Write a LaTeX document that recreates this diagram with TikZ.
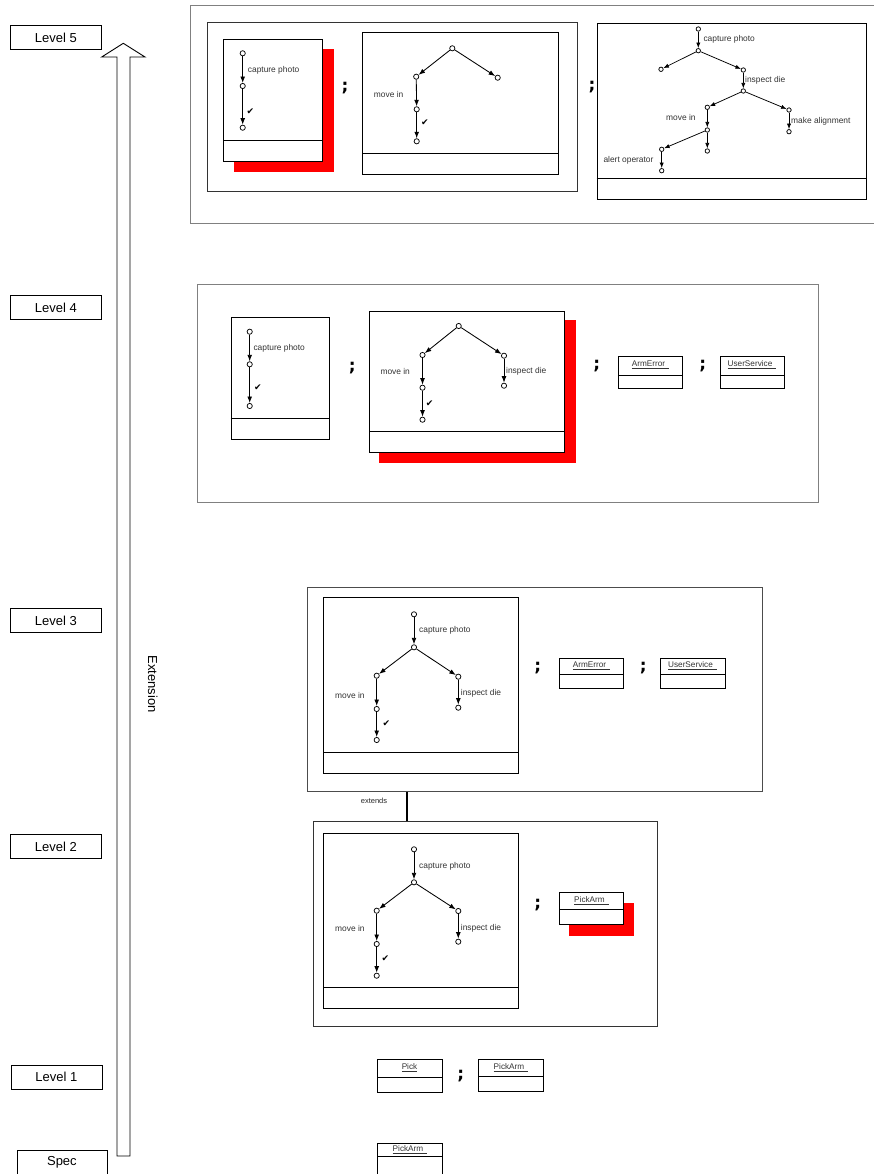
\documentclass[tikz,border=0pt]{standalone}
\usepackage{fontspec}
\setmainfont{Liberation Sans}
\newfontfamily\symfont{DejaVu Sans}
\usetikzlibrary{arrows.meta}

% rectangular node given by its corners: [style]{name}{x1}{y1}{x2}{y2}
\newcommand\panel[6][box]{%
  \node[#1, minimum width=#5-#3, minimum height=#6-#4] (#2) at (#3,#4) {};}
% horizontal compartment line across a box at height #2
\newcommand\compart[3][0.9pt]{%
  \draw[line width=#1] (#2.west |- 0,#3) -- (#2.east |- 0,#3);}

\begin{document}
\begin{tikzpicture}[x=1pt,y=-1pt,
  box/.style={draw=black, fill=white, line width=0.9pt, inner sep=0pt, anchor=north west},
  outer/.style={draw=black!50, line width=1pt, inner sep=0pt, anchor=north west},
  shadow/.style={fill=red, draw=none, inner sep=0pt, anchor=north west},
  level/.style={draw=black, line width=0.8pt, inner sep=0pt, anchor=north west,
    font=\fontsize{13}{15}\selectfont},
  st/.style={circle, draw=black, fill=white, line width=0.75pt, inner sep=0pt, minimum size=5.2pt},
  sts/.style={st, minimum size=4.4pt},
  tr/.style={draw=black, line width=0.85pt, -{Latex[length=6.5pt,width=4.8pt]}},
  trs/.style={draw=black, line width=0.75pt, -{Latex[length=5.5pt,width=4.2pt]}},
  lbl/.style={anchor=west, inner sep=0pt, font=\fontsize{8.4}{9}\selectfont, text=black!80},
  chk/.style={inner sep=0pt, font=\symfont\fontsize{9}{10}\selectfont},
  semi/.style={inner sep=0pt, font=\symfont\bfseries\fontsize{17}{20}\selectfont},
  cls/.style={inner sep=0pt, font=\fontsize{8.2}{9}\selectfont, text=black!80},
]
\useasboundingbox (0,0) rectangle (873,1174);

% ---------------- level labels and extension arrow ----------------
\node[level, minimum width=91, minimum height=24] (lv5) at (10,25) {Level 5};
\node[level, minimum width=91, minimum height=24] (lv4) at (10,295) {Level 4};
\node[level, minimum width=91, minimum height=24] (lv3) at (10,608) {Level 3};
\node[level, minimum width=91, minimum height=24] (lv2) at (10,834) {Level 2};
\node[level, minimum width=91, minimum height=24] (lv1) at (10.5,1064.5) {Level 1};
\node[level, minimum width=90, minimum height=24] (spec) at (16.5,1149.5) {Spec};

\draw[line width=0.9pt] (117,1156) -- (117,57) -- (101.7,57) -- (123.3,43.3)
  -- (145,57) -- (130,57) -- (130,1156) -- cycle;
\node[rotate=-90, inner sep=0pt, font=\fontsize{13}{15}\selectfont] (extlbl) at (152.7,684) {Extension};

% ---------------- Level 5 ----------------
\panel[outer]{L5}{190}{5}{877}{223}
\panel[box, draw=black!80]{L5in}{206.7}{21.7}{577}{191}

\panel[shadow]{s5a}{233.7}{49}{333.3}{171.7}
\panel{A5}{223}{39}{321.7}{160.7}
\compart[1.3pt]{A5}{140.7}
\node[st] (a1) at (242.7,53.3) {};
\node[st] (a2) at (242.7,86) {};
\node[st] (a3) at (242.7,127.7) {};
\draw[tr] (a1) -- (a2);
\draw[tr] (a2) -- (a3);
\node[lbl] (a5l1) at (247.7,70) {capture photo};
\node[chk] (a5c) at (250.5,112) {✔};

\node[semi] (sc51) at (345,88) {;};

\panel{B5}{362.3}{32.3}{557.7}{174}
\compart{B5}{153.7}
\node[st] (b1) at (452.3,48.3) {};
\node[st] (b2) at (416.2,76.7) {};
\node[st] (b3) at (497.7,77.7) {};
\node[st] (b4) at (416.7,109.3) {};
\node[st] (b5) at (416.7,141.3) {};
\draw[tr] (b1) -- (b2);
\draw[tr] (b1) -- (b3);
\draw[tr] (b2) -- (b4);
\draw[tr] (b4) -- (b5);
\node[lbl] (b5l1) at (373.7,94.3) {move in};
\node[chk] (b5c) at (424.8,122.7) {✔};

\node[semi] (sc52) at (592,87) {;};

\panel{C5}{596.7}{23.3}{865.7}{198.7}
\compart{C5}{178.3}
\node[sts] (c1) at (698.3,29) {};
\node[sts] (c2) at (698.3,50.7) {};
\node[sts] (c3) at (661,69.3) {};
\node[sts] (c4) at (743.3,70) {};
\node[sts] (c5) at (743.3,91) {};
\node[sts] (c6) at (707.3,107.3) {};
\node[sts] (c7) at (789,110) {};
\node[sts] (c8) at (789,131.7) {};
\node[sts] (c9) at (707.3,130) {};
\node[sts] (c10) at (661.7,149.3) {};
\node[sts] (c11) at (707.3,151) {};
\node[sts] (c12) at (661.7,170.7) {};
\draw[trs] (c1) -- (c2);
\draw[trs] (c2) -- (c3);
\draw[trs] (c2) -- (c4);
\draw[trs] (c4) -- (c5);
\draw[trs] (c5) -- (c6);
\draw[trs] (c5) -- (c7);
\draw[trs] (c6) -- (c9);
\draw[trs] (c7) -- (c8);
\draw[trs] (c9) -- (c10);
\draw[trs] (c9) -- (c11);
\draw[trs] (c10) -- (c12);
\node[lbl] (c5l1) at (703.3,39) {capture photo};
\node[lbl] (c5l2) at (745,80) {inspect die};
\node[lbl] (c5l3) at (666,117.7) {move in};
\node[lbl] (c5l4) at (791,121.7) {make alignment};
\node[lbl] (c5l5) at (603.3,160.7) {alert operator};

% ---------------- Level 4 ----------------
\panel[outer]{L4}{196.7}{284}{818}{501.7}

\panel{A4}{230.7}{316.7}{329}{439}
\compart[1.5pt]{A4}{418.7}
\node[st] (d1) at (249.7,331.7) {};
\node[st] (d2) at (249.7,364.3) {};
\node[st] (d3) at (249.7,406) {};
\draw[tr] (d1) -- (d2);
\draw[tr] (d2) -- (d3);
\node[lbl] (a4l1) at (253.3,348.3) {capture photo};
\node[chk] (a4c) at (258,387.3) {✔};

\node[semi] (sc41) at (352.3,368) {;};

\panel[shadow]{s4b}{379}{320}{576}{462.3}
\panel{B4}{369}{310.7}{564.3}{452.3}
\compart{B4}{431.7}
\node[st] (e1) at (458.7,326) {};
\node[st] (e2) at (422.5,355) {};
\node[st] (e3) at (504,355.7) {};
\node[st] (e4) at (422.5,387.7) {};
\node[st] (e5) at (422.5,419.7) {};
\node[st] (e6) at (504,385.7) {};
\draw[tr] (e1) -- (e2);
\draw[tr] (e1) -- (e3);
\draw[tr] (e2) -- (e4);
\draw[tr] (e4) -- (e5);
\draw[tr] (e3) -- (e6);
\node[lbl] (b4l1) at (380.3,371.7) {move in};
\node[lbl] (b4l2) at (506,371.7) {inspect die};
\node[chk] (b4c) at (429.6,404) {✔};

\node[semi] (sc42) at (596.7,366) {;};
\panel{E4}{618.3}{356}{681.7}{388.3}
\compart{E4}{375}
\node[cls] (e4t) at (650.5,365) {\underline{ArmError\hspace{4pt}}};
\node[semi] (sc43) at (702.7,366) {;};
\panel{U4}{720}{356}{784}{388.3}
\compart{U4}{375}
\node[cls] (u4t) at (752,365) {\underline{UserService\hspace{4pt}}};

% ---------------- Level 3 ----------------
\panel[outer, draw=black!70]{L3}{306.7}{586.7}{761.7}{791}

\panel{A3}{323.3}{597.3}{518.3}{772.7}
\compart{A3}{752.7}
\node[st] (f1) at (414,614.3) {};
\node[st] (f2) at (414,647.3) {};
\node[st] (f3) at (376.7,675.7) {};
\node[st] (f4) at (458.3,676.7) {};
\node[st] (f5) at (376.7,709) {};
\node[st] (f6) at (376.7,740) {};
\node[st] (f7) at (458.3,707.7) {};
\draw[tr] (f1) -- (f2);
\draw[tr] (f2) -- (f3);
\draw[tr] (f2) -- (f4);
\draw[tr] (f3) -- (f5);
\draw[tr] (f5) -- (f6);
\draw[tr] (f4) -- (f7);
\node[lbl] (a3l1) at (419,630.7) {capture photo};
\node[lbl] (a3l2) at (335,695) {move in};
\node[lbl] (a3l3) at (460.7,693.3) {inspect die};
\node[chk] (a3c) at (386.3,723.3) {✔};

\node[semi] (sc31) at (537.7,668.3) {;};
\panel{E3}{559.3}{658.3}{623.3}{687.7}
\compart{E3}{674.3}
\node[cls] (e3t) at (591.5,666) {\underline{ArmError\hspace{4pt}}};
\node[semi] (sc32) at (643.3,668.3) {;};
\panel{U3}{660}{658.3}{725}{687.7}
\compart{U3}{674.3}
\node[cls] (u3t) at (692.5,666) {\underline{UserService\hspace{4pt}}};

% ---------------- Level 2 ----------------
\panel[outer, draw=black!80]{L2}{313.3}{820.7}{656.7}{1026}

\panel{A2}{323.3}{832.7}{518.3}{1008.3}
\compart{A2}{987.7}
\node[st] (g1) at (414,849.3) {};
\node[st] (g2) at (414,882.3) {};
\node[st] (g3) at (376.7,910.7) {};
\node[st] (g4) at (458.3,911) {};
\node[st] (g5) at (376.7,944) {};
\node[st] (g6) at (376.7,975.7) {};
\node[st] (g7) at (458.3,941.7) {};
\draw[tr] (g1) -- (g2);
\draw[tr] (g2) -- (g3);
\draw[tr] (g2) -- (g4);
\draw[tr] (g3) -- (g5);
\draw[tr] (g5) -- (g6);
\draw[tr] (g4) -- (g7);
\node[lbl] (a2l1) at (419,866) {capture photo};
\node[lbl] (a2l2) at (335,928.3) {move in};
\node[lbl] (a2l3) at (460.7,928.3) {inspect die};
\node[chk] (a2c) at (385.3,959) {✔};

\node[semi] (sc21) at (537.7,904.7) {;};
\panel[shadow]{s2p}{569}{902.7}{634}{936}
\panel{P2}{559.3}{892.3}{623.3}{924.3}
\compart{P2}{909}
\node[cls] (p2t) at (591.5,900.5) {\underline{PickArm\hspace{4pt}}};

% extends relation between Level 3 and Level 2
\coordinate (extx) at (407.3,800);
\draw[line width=2pt] (L3.south -| extx) -- (L2.north -| extx);
\node[inner sep=0pt, font=\fontsize{7.5}{9}\selectfont, text=black!85] (extends) at (374,800.7) {extends};

% ---------------- Level 1 ----------------
\panel{K1}{377.3}{1059.3}{441.7}{1092.3}
\compart{K1}{1077.3}
\node[cls] (k1t) at (409.5,1068) {\underline{Pick}};
\node[semi] (sc11) at (460.7,1076) {;};
\panel{P1}{478.3}{1059}{542.7}{1091}
\compart{P1}{1076}
\node[cls] (p1t) at (511,1067.5) {\underline{PickArm\hspace{4pt}}};

% ---------------- Spec ----------------
\panel{P0}{377.3}{1142.7}{441.7}{1182}
\compart{P0}{1156}
\node[cls] (p0t) at (410,1150) {\underline{PickArm\hspace{4pt}}};

\end{tikzpicture}
\end{document}
